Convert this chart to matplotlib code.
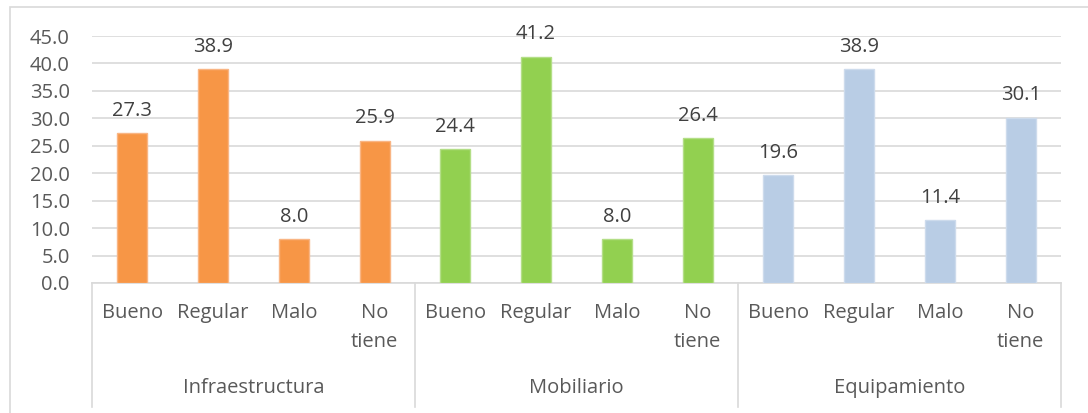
import matplotlib.pyplot as plt
from matplotlib.patches import Rectangle

groups = ["Infraestructura", "Mobiliario", "Equipamiento"]
levels = ["Bueno", "Regular", "Malo", "No\ntiene"]
infraestructura = [27.3, 38.9, 8.0, 25.9]
mobiliario = [24.4, 41.2, 8.0, 26.4]
equipamiento = [19.6, 38.9, 11.4, 30.1]
colors = ["#F79646", "#92D050", "#B9CDE5"]
edges = ["#F9B584", "#B3DE87", "#CDDBEC"]

plt.rcParams["font.family"] = ["Open Sans", "DejaVu Sans"]
text_color = "#595959"
grid_color = "#D9D9D9"
fs = 14.5

fig = plt.figure(figsize=(10.88, 4.13), dpi=100)
ax = fig.add_axes([92 / 1088, 1 - 283 / 413, (1061 - 92) / 1088, (283 - 36) / 413])

series = [infraestructura, mobiliario, equipamiento]
for g, vals in enumerate(series):
    xs = [g * 4 + i for i in range(4)]
    bars = ax.bar(xs, vals, width=0.37, color=colors[g], edgecolor=edges[g],
                  linewidth=1, zorder=3)
    for b, v in zip(bars, vals):
        ax.annotate(f"{v:.1f}", (b.get_x() + b.get_width() / 2, v),
                    xytext=(0, 9), textcoords="offset points",
                    ha="center", va="bottom", fontsize=fs, color="#404040")
    for i, lab in enumerate(levels):
        ax.text(xs[i], -0.08, lab, transform=ax.get_xaxis_transform(),
                ha="center", va="top", fontsize=fs, color=text_color,
                linespacing=1.6)
    ax.text(g * 4 + 1.5, -0.425, groups[g], transform=ax.get_xaxis_transform(),
            ha="center", va="center", fontsize=fs, color=text_color)

# separators between groups
for sx in [-0.5, 3.5, 7.5, 11.5]:
    ax.plot([sx, sx], [0, -0.5], transform=ax.get_xaxis_transform(),
            color=grid_color, lw=1.2, clip_on=False, zorder=2)

ax.set_xlim(-0.5, 11.5)
ax.set_ylim(0, 45)
ax.set_yticks(range(0, 46, 5))
ax.set_yticklabels([f"{t:.1f}" for t in range(0, 46, 5)])
ax.tick_params(axis="y", length=0, pad=16, labelsize=fs, labelcolor=text_color)
ax.set_xticks([])
ax.yaxis.grid(True, color=grid_color, lw=1.2, zorder=0)
for s in ["top", "right", "left"]:
    ax.spines[s].set_visible(False)
ax.spines["bottom"].set_color(grid_color)
ax.spines["bottom"].set_linewidth(1.2)

# chart frame
fig.add_artist(Rectangle((10 / 1088, -0.1), 1.2, 1 - 7 / 413 + 0.1,
                         transform=fig.transFigure, fill=False,
                         edgecolor=grid_color, lw=1.2))

fig.savefig("out.png", dpi=100)
